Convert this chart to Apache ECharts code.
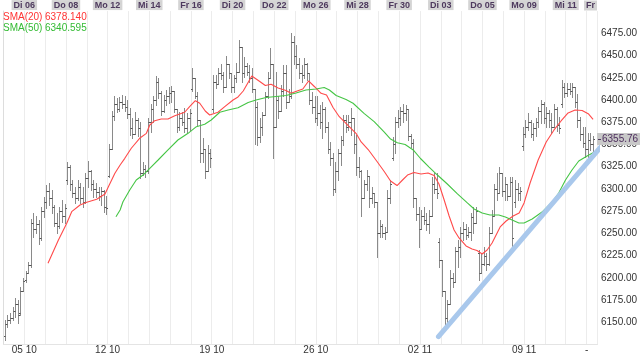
<!DOCTYPE html>
<html><head><meta charset="utf-8">
<script src="https://cdn.jsdelivr.net/npm/echarts@6/dist/echarts.min.js"></script>
<style>html,body{margin:0;padding:0;background:#fff}#c{width:640px;height:356px}</style>
</head><body><div id="c"></div>
<script>
const FONT = 'Liberation Sans, Arial, sans-serif';
const barsPerDay = 8;

const open = [
6135,6148,6152,6155,6163,6170,6160,6185, 6197,6205,6214,6262,6255,6260,6245,6275,
6285,6298,6290,6280,6262,6258,6275,6270, 6310,6325,6305,6295,6290,6302,6290,6285,
6312,6320,6305,6300,6296,6292,6298,6280, 6315,6345,6382,6395,6390,6398,6395,6392,
6384,6368,6362,6378,6368,6318,6322,6320, 6375,6390,6400,6420,6408,6388,6400,6405,
6408,6410,6390,6370,6380,6375,6368,6380, 6412,6425,6405,6378,6340,6345,6320,6340,
6390,6420,6418,6430,6428,6415,6440,6430, 6415,6425,6432,6460,6430,6438,6432,6425,
6412,6392,6358,6370,6383,6405,6425,6440, 6370,6400,6388,6410,6430,6398,6405,6465,
6450,6440,6430,6428,6440,6430,6400,6392, 6380,6385,6375,6390,6370,6345,6335,6300,
6320,6340,6355,6378,6370,6375,6380,6350, 6325,6320,6290,6305,6315,6290,6295,6285,
6250,6258,6250,6252,6290,6335,6350,6375, 6380,6388,6385,6390,6360,6352,6290,6272,
6255,6270,6265,6260,6270,6305,6300,6240, 6220,6185,6155,6170,6200,6195,6230,6235,
6250,6255,6248,6252,6268,6262,6228,6205, 6215,6225,6215,6250,6270,6300,6295,6318,
6298,6305,6292,6308,6285,6300,6295,6348, 6362,6370,6375,6362,6368,6375,6388,6395,
6380,6385,6378,6370,6390,6372,6395,6415, 6408,6412,6410,6415,6398,6378,6362,6352,
6345,6355,6350];
const high = [
6152,6158,6160,6167,6177,6175,6190,6200, 6208,6218,6266,6273,6269,6265,6280,6291,
6304,6307,6299,6282,6273,6280,6288,6283, 6330,6327,6310,6302,6310,6307,6302,6318,
6331,6321,6310,6307,6302,6302,6299,6292, 6350,6388,6404,6402,6403,6406,6404,6400,
6391,6380,6386,6380,6375,6330,6327,6380, 6395,6405,6427,6425,6410,6406,6411,6415,
6416,6410,6390,6386,6387,6391,6385,6390, 6436,6425,6409,6378,6357,6345,6349,6345,
6428,6428,6436,6440,6431,6450,6440,6430, 6428,6442,6467,6460,6448,6442,6439,6436,
6412,6398,6380,6386,6409,6431,6459,6440, 6431,6405,6417,6439,6439,6412,6475,6472,
6462,6447,6439,6447,6442,6430,6409,6405, 6405,6394,6398,6392,6375,6353,6340,6330,
6345,6360,6383,6383,6383,6391,6380,6361, 6336,6321,6310,6321,6315,6302,6295,6285,
6265,6261,6257,6299,6310,6358,6381,6389, 6392,6396,6394,6390,6362,6356,6290,6280,
6276,6280,6273,6276,6313,6318,6318,6245, 6220,6185,6175,6209,6205,6235,6242,6257,
6263,6260,6257,6273,6280,6280,6231,6228, 6235,6228,6257,6276,6306,6318,6325,6318,
6313,6305,6313,6313,6310,6307,6302,6370, 6377,6385,6377,6374,6380,6392,6400,6398,
6392,6389,6385,6396,6392,6381,6422,6419, 6419,6419,6419,6415,6407,6381,6370,6370,
6363,6363,6360];
const low = [
6130,6145,6149,6152,6156,6149,6158,6185, 6195,6205,6212,6246,6250,6238,6243,6268,
6278,6282,6273,6258,6250,6256,6263,6262, 6305,6299,6291,6284,6288,6284,6280,6284,
6302,6299,6291,6291,6288,6282,6274,6272, 6313,6345,6378,6386,6388,6391,6388,6380,
6361,6357,6362,6360,6312,6316,6313,6318, 6364,6375,6394,6402,6383,6386,6394,6397,
6398,6386,6364,6366,6372,6364,6364,6366, 6410,6402,6372,6330,6330,6312,6320,6325,
6386,6413,6418,6424,6409,6415,6425,6409, 6409,6420,6431,6420,6426,6428,6420,6409,
6350,6349,6353,6361,6383,6402,6425,6335, 6370,6380,6388,6405,6391,6398,6402,6440,
6436,6425,6420,6425,6422,6395,6385,6375, 6372,6368,6357,6364,6340,6327,6293,6297,
6310,6327,6349,6364,6366,6361,6340,6316, 6313,6269,6290,6299,6280,6284,6280,6223,
6246,6246,6244,6252,6284,6332,6340,6370, 6372,6375,6378,6355,6347,6280,6265,6235,
6255,6261,6254,6250,6270,6295,6290,6212, 6180,6145,6147,6170,6190,6195,6212,6223,
6242,6244,6246,6242,6250,6262,6197,6205, 6214,6209,6214,6250,6270,6288,6295,6292,
6288,6288,6292,6231,6280,6288,6288,6344, 6358,6366,6358,6355,6360,6370,6374,6374,
6370,6370,6363,6370,6365,6363,6392,6403, 6405,6407,6403,6392,6370,6355,6347,6336,
6336,6344,6340];
const close = [
6148,6152,6155,6163,6170,6158,6185,6196, 6205,6214,6262,6255,6260,6245,6275,6285,
6298,6290,6280,6262,6258,6275,6270,6278, 6325,6305,6295,6290,6302,6290,6285,6312,
6320,6305,6300,6296,6292,6298,6280,6278, 6345,6382,6395,6390,6398,6395,6392,6384,
6368,6362,6378,6368,6318,6322,6320,6375, 6390,6400,6420,6408,6388,6400,6405,6408,
6410,6390,6370,6380,6375,6368,6380,6385, 6425,6405,6378,6340,6345,6320,6340,6335,
6420,6418,6430,6428,6415,6440,6430,6415, 6425,6432,6460,6430,6438,6432,6425,6412,
6392,6358,6370,6383,6405,6425,6440,6370, 6400,6388,6410,6430,6398,6405,6465,6450,
6440,6430,6428,6440,6430,6400,6392,6380, 6385,6375,6390,6370,6345,6335,6300,6320,
6340,6355,6378,6370,6375,6380,6350,6325, 6320,6290,6305,6315,6290,6295,6285,6250,
6258,6250,6252,6290,6305,6350,6375,6380, 6388,6385,6390,6360,6352,6290,6272,6255,
6270,6265,6260,6270,6305,6300,6295,6220, 6185,6155,6170,6200,6195,6230,6235,6250,
6255,6248,6252,6268,6262,6275,6205,6215, 6225,6215,6250,6270,6300,6295,6318,6298,
6305,6292,6308,6245,6300,6295,6298,6362, 6370,6375,6362,6368,6375,6388,6395,6380,
6385,6378,6370,6390,6372,6368,6415,6408, 6412,6410,6415,6398,6378,6362,6352,6345,
6355,6350,6355.76];

// SMA readings: bar position (bar index) and value
const sma20Pos = [16.6,20.6,23.8,25.7,28.9,31.5,35.3,38.5,39.8,42.3,44.3,46.1,48.6,51.8,54.4,55.7,57.6,60.1,62.7,65.3,69.1,71.0,73.2,74.9,77.0,78.7,81.9,84.5,87.7,89.6,91.6,94.9,97.4,100.1,102.3,105,108,110,112.3,114.5,116.7,119,121.5,123.6,126.1,128.5,130.7,135.1,136.9,139.6,143,145.9,148.2,150.7,152.8,154.7,157.2,159.9,162.6,164.9,166.8,168.8,170.7,172.6,174.5,177.2,179.5,181.4,183.4,185.3,187.2,190.3,192.6,195.3,197.6,199.5,201.8,204.9,208,211,213.7,216.4,219.1,221.8,224.3,226];
const sma20 = [6216.3,6242.5,6261.3,6274.4,6281.9,6284.9,6288.3,6294.3,6302.5,6317.6,6326.9,6334.4,6345.7,6356.9,6362.5,6371.9,6376.7,6378.6,6378.6,6382.3,6386.2,6392.5,6399.2,6396.3,6387.6,6383.1,6386.2,6392.5,6400,6403.4,6410.1,6427,6421.9,6416.3,6417.6,6413.5,6410.7,6407.5,6410.1,6412.4,6421.4,6414.9,6407.5,6405.6,6391.6,6381.2,6374.7,6361.8,6352.8,6344.3,6330.8,6319,6308.9,6303.8,6310,6315.6,6318.5,6316.8,6317.9,6315.1,6305.5,6287.5,6269.5,6253.8,6244.8,6235.8,6232.4,6230.7,6226.8,6231.3,6239.2,6257.2,6263.9,6269.5,6272.9,6284.2,6306.6,6332.5,6352.8,6366.3,6376.4,6385.4,6388.7,6388.2,6384.2,6378.14];
const sma50Pos = [42.7,44.3,45.4,48,50.5,53.1,55.7,58.9,62.7,66.5,70.4,73.6,76.8,79.3,82.6,85.8,89.6,93.5,96.5,100.4,104.2,108,111.9,115.7,119.6,122.7,124.7,127.3,131.1,133.8,138,141.9,145.7,148.2,150.8,153.8,156.9,159.7,163,166.2,170,173.9,177.7,180.3,183.4,186.4,189.8,192.3,194.9,197.5,199.5,202.6,206.4,210.3,212.8,215.4,217.9,220.5,223.7,226];
const sma50 = [6268.7,6276.3,6285.6,6298.8,6310,6315.6,6323.2,6332.5,6343.8,6355,6362.5,6370,6372.7,6377.5,6386.2,6388.7,6391.3,6397.2,6400,6402.8,6403.9,6405,6407.9,6411.2,6412.4,6414,6411.2,6405,6400.6,6396.3,6385,6375.6,6364,6356.1,6352,6349.9,6343.8,6334.2,6324.6,6315.6,6305.5,6294.3,6284.2,6277.4,6272.9,6270.7,6270.7,6268.4,6265,6261.7,6261.7,6266.2,6274,6285.3,6295.4,6310,6321.3,6331.4,6337,6340.595];

// Trend line endpoints (bar position, value)
const trendPos = [166.6, 230.2];
const trendVals = [6133.8, 6351.3];

const lastPrice = 6355.76;
const topLabels = ['Di 06','Do 08','Mo 12','Mi 14','Fr 16','Di 20','Do 22','Mo 26','Mi 28','Fr 30','Di 03','Do 05','Mo 09','Mi 11'];
const topLabelDays = [1,3,5,7,9,11,13,15,17,19,21,23,25,27];
const bottomLabels = ['05 10','12 10','19 10','26 10','02 11','09 11','-'];
const bottomLabelDays = [1,5,10,15,20,25,28];
const yTicks = { min: 6125, max: 6500, step: 25 };

const ohlc = open.map((o, i) => [i + 0.5, o, high[i], low[i], close[i]]);
const s20 = sma20Pos.map((p, i) => [p + 0.5, sma20[i]]);
const s50 = sma50Pos.map((p, i) => [p + 0.5, sma50[i]]);
const trend = trendPos.map((p, i) => [p + 0.5, trendVals[i]]);

function renderOHLC(params, api) {
  const x = api.value(0);
  const pH = api.coord([x, api.value(2)]);
  const pL = api.coord([x, api.value(3)]);
  const pO = api.coord([x, api.value(1)]);
  const pC = api.coord([x, api.value(4)]);
  const px = Math.round(pH[0]) + 0.5;
  const oy = Math.round(pO[1]) + 0.5, cy = Math.round(pC[1]) + 0.5;
  return { type: 'group', children: [
    { type: 'line', shape: { x1: px, y1: Math.round(pH[1]), x2: px, y2: Math.round(pL[1]) + 1 }, style: { stroke: '#8a8a8a', lineWidth: 1 } },
    { type: 'line', shape: { x1: px - 1.5, y1: oy, x2: px, y2: oy }, style: { stroke: '#555555', lineWidth: 1 } },
    { type: 'line', shape: { x1: px, y1: cy, x2: px + 1.5, y2: cy }, style: { stroke: '#555555', lineWidth: 1 } }
  ]};
}

const xMax = 228.2;
const chart = echarts.init(document.getElementById('c'), null, { renderer: 'canvas' });
const option = {
  animation: false,
  backgroundColor: '#ffffff',
  textStyle: { fontFamily: FONT },
  grid: { left: 3.5, right: 42.5, top: 11.07, bottom: 11.5, containLabel: false, outerBoundsMode: 'none' },
  xAxis: [
    { type: 'value', position: 'bottom', min: 0, max: xMax, interval: barsPerDay,
      axisLine: { show: true, lineStyle: { color: '#e4e4e4' } }, axisTick: { show: false },
      splitLine: { show: true, lineStyle: { color: '#ececec', width: 1 } },
      axisLabel: { margin: 1, color: '#333', fontSize: 10, fontFamily: FONT, hideOverlap: false,
        showMinLabel: true, showMaxLabel: false,
        formatter: v => { const k = bottomLabelDays.indexOf(Math.round(v / barsPerDay)); return k >= 0 ? bottomLabels[k] : ''; } } },
    { type: 'value', position: 'top', min: 0, max: xMax, interval: barsPerDay,
      axisLine: { show: false }, axisTick: { show: false }, splitLine: { show: false },
      axisLabel: { margin: 1, hideOverlap: false, showMaxLabel: false,
        formatter: v => { const k = topLabelDays.indexOf(Math.round(v / barsPerDay)); return k >= 0 ? '{b|' + topLabels[k] + '}' : ''; },
        rich: { b: { backgroundColor: '#d4d4d4', color: '#4e3a5e', fontSize: 9, fontWeight: 'bold', fontFamily: FONT, padding: [1, 2, 0, 2], lineHeight: 10 } } } }
  ],
  yAxis: { type: 'value', position: 'right', min: yTicks.min, max: yTicks.max, interval: yTicks.step,
    axisLine: { show: true, lineStyle: { color: '#dddddd' } }, axisTick: { show: false }, splitLine: { show: false },
    axisLabel: { margin: 3.5, color: '#333', fontSize: 10, fontFamily: FONT, hideOverlap: false,
      formatter: v => (v === yTicks.min || v === yTicks.max) ? '' : v.toFixed(2) } },
  series: [
    { type: 'custom', name: 'OHLC', renderItem: renderOHLC, data: ohlc, encode: { x: 0, y: [1, 2, 3, 4] }, z: 2 },
    { type: 'line', name: 'SMA(20)', data: s20, showSymbol: false, symbol: 'none', lineStyle: { color: '#ff4a4a', width: 1.1 }, z: 3 },
    { type: 'line', name: 'SMA(50)', data: s50, showSymbol: false, symbol: 'none', lineStyle: { color: '#45c545', width: 1.1 }, z: 3 },
    { type: 'line', name: 'Trend', data: trend, showSymbol: false, symbol: 'none', clip: false,
      lineStyle: { color: '#a9c8ec', width: 5, cap: 'round' }, z: 4 }
  ]
};
chart.setOption(option);

const py = chart.convertToPixel({ yAxisIndex: 0 }, lastPrice);
chart.setOption({ graphic: [
  { type: 'text', left: 3, top: 12, z: 100, style: { text: 'SMA(20)', fill: '#ff3333', font: '10px ' + FONT } },
  { type: 'text', left: 45, top: 12, z: 100, style: { text: sma20[sma20.length - 1].toFixed(3), fill: '#ff3333', font: '10px ' + FONT } },
  { type: 'text', left: 3, top: 23, z: 100, style: { text: 'SMA(50)', fill: '#33bb33', font: '10px ' + FONT } },
  { type: 'text', left: 45, top: 23, z: 100, style: { text: sma50[sma50.length - 1].toFixed(3), fill: '#33bb33', font: '10px ' + FONT } },
  { type: 'rect', z: 100, shape: { x: 584, y: 0.5, width: 13, height: 10 }, style: { fill: '#d4d4d4' } },
  { type: 'text', z: 101, x: 586, y: 6, style: { text: 'Fr', fill: '#4e3a5e', font: 'bold 9px ' + FONT, textVerticalAlign: 'middle' } },
  { type: 'rect', z: 100, shape: { x: 597, y: Math.round(py) - 6, width: 43, height: 12 }, style: { fill: '#c8c8c8' } },
  { type: 'line', z: 101, shape: { x1: 598, y1: Math.round(py) + 0.5, x2: 601, y2: Math.round(py) + 0.5 }, style: { stroke: '#4e3a5e', lineWidth: 1 } },
  { type: 'text', z: 101, x: 602, y: Math.round(py), style: { text: lastPrice.toFixed(2), fill: '#4e2f5e', font: '10px ' + FONT, textVerticalAlign: 'middle' } }
]});
</script>
</body></html>
